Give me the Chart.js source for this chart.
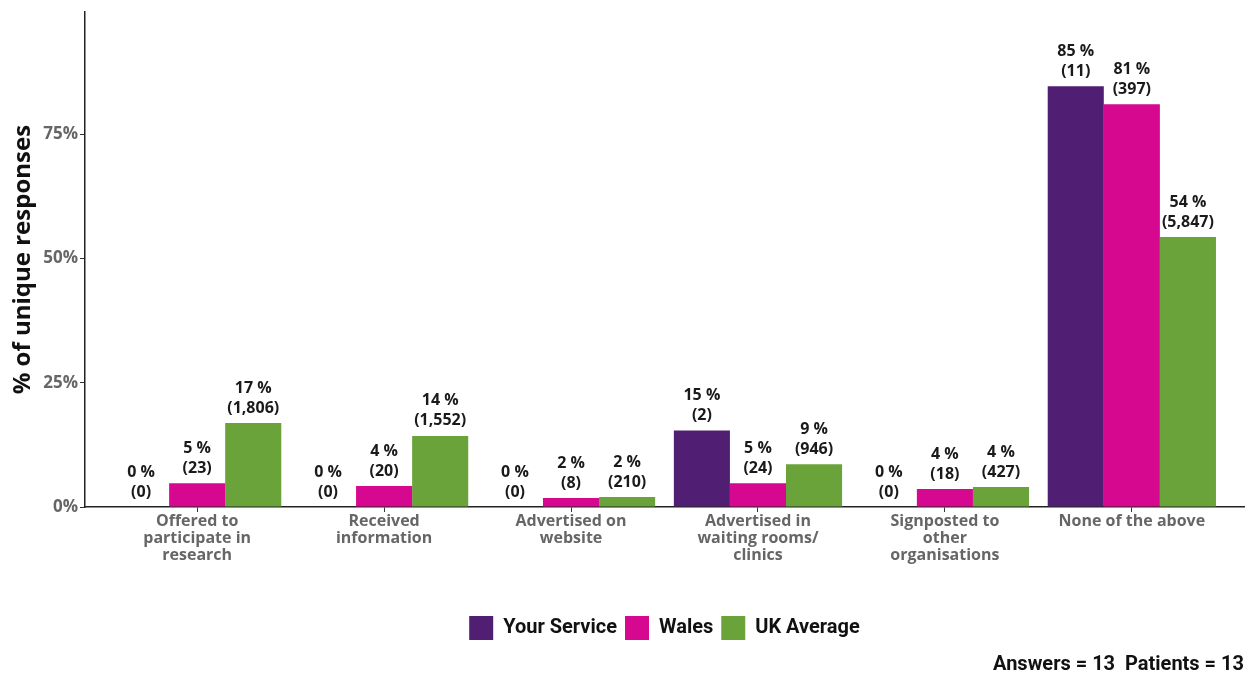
<!DOCTYPE html>
<html>
<head>
<meta charset="utf-8">
<script src="https://cdn.jsdelivr.net/npm/chart.js@4.4.1/dist/chart.umd.min.js"></script>
<style>
html,body{margin:0;padding:0;background:#fff;}
#wrap{width:1250px;height:675px;position:relative;}
</style>
</head>
<body>
<div id="wrap"><canvas id="c" width="1250" height="675"></canvas></div>
<script>
const categories = [
  ["Offered to", "participate in", "research"],
  ["Received", "information"],
  ["Advertised on", "website"],
  ["Advertised in", "waiting rooms/", "clinics"],
  ["Signposted to", "other", "organisations"],
  ["None of the above"]
];
const seriesNames = ["Your Service", "Wales", "UK Average"];
const seriesColors = ["#501F74", "#D6088F", "#69A33A"];
const yourServicePct = [0, 0, 0, 15.4, 0, 84.6];
const yourServiceN   = ["0", "0", "0", "2", "0", "11"];
const walesPct = [4.8, 4.2, 1.8, 4.8, 3.6, 81.0];
const walesN   = ["23", "20", "8", "24", "18", "397"];
const ukPct = [16.9, 14.3, 2.0, 8.6, 4.0, 54.3];
const ukN   = ["1,806", "1,552", "210", "946", "427", "5,847"];
const yTicks = [0, 25, 50, 75];
const caption = "Answers = 13  Patients = 13";

const pctSets = [yourServicePct, walesPct, ukPct];
const nSets = [yourServiceN, walesN, ukN];

const datasets = seriesNames.map((name, s) => ({
  label: name,
  data: pctSets[s].map((v, i) => ({x: i + 1, y: v})),
  backgroundColor: seriesColors[s],
  borderWidth: 0,
  categoryPercentage: 0.9,
  barPercentage: 1.0,
  counts: nSets[s]
}));

const labelPlugin = {
  id: 'barLabels',
  afterDatasetsDraw(chart) {
    const ctx = chart.ctx;
    ctx.save();
    ctx.font = "bold 16px 'Open Sans', sans-serif";
    ctx.fillStyle = "#1a1a1a";
    ctx.textAlign = "center";
    ctx.textBaseline = "middle";
    chart.data.datasets.forEach((ds, di) => {
      const meta = chart.getDatasetMeta(di);
      meta.data.forEach((bar, i) => {
        const v = ds.data[i].y;
        const top = bar.y;
        ctx.fillText(Math.round(v) + " %", bar.x, top - 35);
        ctx.fillText("(" + ds.counts[i] + ")", bar.x, top - 15);
      });
    });
    ctx.restore();
  }
};

new Chart(document.getElementById('c'), {
  type: 'bar',
  data: { datasets },
  plugins: [labelPlugin],
  options: {
    responsive: false,
    animation: false,
    devicePixelRatio: 1,
    layout: { padding: { top: 12, right: 6, bottom: 0, left: 0 } },
    plugins: {
      tooltip: { enabled: false },
      legend: {
        position: 'bottom',
        fullSize: false,
        labels: {
          boxWidth: 24, boxHeight: 24, padding: 8,
          color: '#111',
          font: { family: "Roboto, sans-serif", weight: 'bold', size: 20 }
        }
      },
      subtitle: {
        display: true,
        position: 'bottom',
        align: 'end',
        text: caption,
        color: '#111',
        font: { family: "Roboto, sans-serif", weight: 'bold', size: 20, lineHeight: 1.0 },
        padding: { top: 5, bottom: 0 }
      }
    },
    scales: {
      x: {
        type: 'linear',
        min: 0.4, max: 6.6,
        offset: false,
        afterBuildTicks(scale) { scale.ticks = categories.map((c, i) => ({ value: i + 1 })); },
        ticks: {
          autoSkip: false, maxRotation: 0, minRotation: 0,
          color: '#666',
          padding: 1,
          font: { family: "'Open Sans', sans-serif", weight: 'bold', size: 16, lineHeight: 1.06 },
          callback(value) { return categories[value - 1] || ''; }
        },
        grid: { display: true, offset: false, drawOnChartArea: false, drawTicks: true, tickLength: 5, color: '#333' },
        border: { display: true, color: '#222', width: 1.5 },
        afterFit(scale) { scale.height = 101; }
      },
      y: {
        min: 0, max: 99.5,
        afterBuildTicks(scale) { scale.ticks = yTicks.map(v => ({ value: v })); },
        ticks: {
          color: '#666',
          padding: 2,
          font: { family: "'Open Sans', sans-serif", weight: 'bold', size: 17 },
          callback(v) { return v + '%'; }
        },
        grid: { display: true, drawOnChartArea: false, drawTicks: true, tickLength: 5, color: '#333' },
        border: { display: true, color: '#222', width: 1.5 },
        title: {
          display: true,
          text: '% of unique responses',
          color: '#111',
          font: { family: "'Open Sans', sans-serif", weight: 'bold', size: 24 },
          padding: { top: 9, bottom: 4 }
        },
        afterFit(scale) { scale.width = 85; }
      }
    }
  }
});
</script>
</body>
</html>
